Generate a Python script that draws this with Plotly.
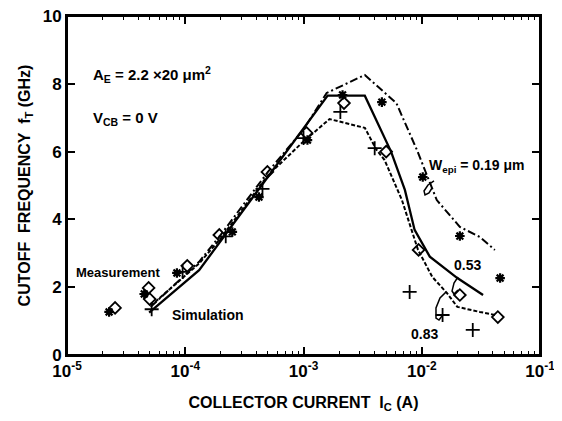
import plotly.graph_objects as go

# ---------------- data ----------------
# Simulation curves (collector current in A, fT in GHz)
sim019_I = [5.1e-5, 1.31e-4, 2e-4, 5e-4, 1e-3, 1.57e-3, 3.3e-3, 6.1e-3, 9.1e-3, 1.17e-2, 1.34e-2, 2.1e-2, 3.1e-2, 4.15e-2]
sim019_f = [1.42, 2.75, 3.55, 5.4, 6.65, 7.73, 8.26, 7.43, 6.05, 5.07, 4.57, 3.78, 3.48, 3.1]

sim053_I = [4.95e-5, 1.31e-4, 1.6e-3, 3.3e-3, 5.5e-3, 7.2e-3, 8.7e-3, 1.17e-2, 2.0e-2, 3.3e-2]
sim053_f = [1.25, 2.5, 7.65, 7.65, 6.0, 4.87, 3.69, 2.9, 2.27, 1.77]

sim083_I = [5.1e-5, 1.31e-4, 2e-4, 5e-4, 1e-3, 1.66e-3, 3.3e-3, 4.15e-3, 4.85e-3, 6.8e-3, 9.3e-3, 1.23e-2, 1.63e-2, 2.0e-2, 3.1e-2, 4.2e-2]
sim083_f = [1.45, 2.7, 3.45, 5.3, 6.3, 6.96, 6.7, 6.05, 5.75, 4.57, 3.1, 2.3, 1.83, 1.42, 1.27, 1.18]

# Measurements
meas019_I = [2.27e-5, 4.5e-5, 8.5e-5, 2.5e-4, 4.2e-4, 1.08e-3, 2.14e-3, 4.6e-3, 1.02e-2, 2.1e-2, 4.6e-2]
meas019_f = [1.27, 1.8, 2.42, 3.63, 4.66, 6.34, 7.67, 7.46, 5.25, 3.51, 2.27]

meas053_I = [2.55e-5, 4.9e-5, 5.0e-5, 1.04e-4, 1.94e-4, 4.95e-4, 1.06e-3, 2.2e-3, 5.0e-3, 9.4e-3, 2.1e-2, 4.4e-2]
meas053_f = [1.39, 1.98, 1.65, 2.63, 3.54, 5.4, 6.55, 7.43, 6.0, 3.1, 1.77, 1.12]

meas083_I = [5.2e-5, 9.5e-5, 2.2e-4, 4.5e-4, 1.0e-3, 2.05e-3, 4.0e-3, 7.9e-3, 1.5e-2, 2.7e-2]
meas083_f = [1.35, 2.45, 3.5, 4.9, 6.4, 7.17, 6.1, 1.86, 1.18, 0.74]

x_tickvals = [1e-5, 1e-4, 1e-3, 1e-2, 1e-1]
x_ticktext = ["10<sup>-5</sup>", "10<sup>-4</sup>", "10<sup>-3</sup>", "10<sup>-2</sup>", "10<sup>-1</sup>"]
y_tickvals = [0, 2, 4, 6, 8, 10]

# ---------------- figure ----------------
FONT = "Liberation Sans, Arial, sans-serif"
OFF = 8                      # page body margin of the browser
W, H = 562 - OFF, 421 - 2 * OFF
L, T = 67 - OFF, 16 - OFF
PW, PH = 473, 339
R, B = W - L - PW, H - T - PH


def px2paper(x, y):
    # x, y are screen pixel positions in the reference picture
    return (x - OFF - L) / PW, (T + PH - (y - OFF)) / PH


fig = go.Figure()
fig.add_trace(go.Scatter(x=sim019_I, y=sim019_f, mode="lines",
                         line=dict(color="black", width=2, dash="8px,3px,2px,3px")))
fig.add_trace(go.Scatter(x=sim053_I, y=sim053_f, mode="lines",
                         line=dict(color="black", width=2.3)))
fig.add_trace(go.Scatter(x=sim083_I, y=sim083_f, mode="lines",
                         line=dict(color="black", width=2, dash="4px,2px")))
fig.add_trace(go.Scatter(x=meas019_I, y=meas019_f, mode="markers",
                         marker=dict(symbol="asterisk-open", size=8, color="black",
                                     line=dict(color="black", width=2.2))))
fig.add_trace(go.Scatter(x=meas053_I, y=meas053_f, mode="markers",
                         marker=dict(symbol="diamond-open", size=9, color="black",
                                     line=dict(color="black", width=1.8))))
fig.add_trace(go.Scatter(x=meas083_I, y=meas083_f, mode="markers",
                         marker=dict(symbol="cross-thin-open", size=10, color="black",
                                     line=dict(color="black", width=1.8))))

# text annotations (pixel positions converted to paper coordinates)
def ann(x, y, text, size=15, xanchor="left"):
    px, py = px2paper(x, y)
    fig.add_annotation(x=px, y=py, xref="paper", yref="paper", text=text, showarrow=False,
                       xanchor=xanchor, yanchor="middle",
                       font=dict(family=FONT, size=size, color="black"))

ann(91, 74, "<b>A<sub>E</sub> = 2.2 ×20 μm<sup>2</sup></b>", 15)
ann(91, 118, "<b>V<sub>CB</sub> = 0 V</b>", 15)
ann(74, 272, "<b>Measurement</b>", 13)
ann(170, 315, "<b>Simulation</b>", 14)
ann(427, 166, "<b>W<sub>epi</sub> = 0.19 μm</b>", 14)
ann(452, 265, "<b>0.53</b>", 14)
ann(409, 334, "<b>0.83</b>", 14)

# leader hooks from labels to curves
def path(points):
    pts = [px2paper(x, y) for x, y in points]
    d = "M " + " L ".join(f"{a:.4f},{b:.4f}" for a, b in pts)
    fig.add_shape(type="path", path=d, xref="paper", yref="paper",
                  line=dict(color="black", width=1.5))

path([(434, 181), (428, 185), (424, 191), (425, 195), (429, 193), (432, 188)])
path([(458, 277), (454, 283), (452, 291), (454, 294), (458, 290)])
path([(446, 292), (440, 298), (436, 308), (436, 318), (439, 320), (442, 316)])

# plot frame
fig.add_shape(type="rect", xref="paper", yref="paper", x0=0, y0=0, x1=1, y1=1,
              line=dict(color="black", width=2), fillcolor="rgba(0,0,0,0)", layer="above")

fig.update_layout(
    width=W, height=H,
    margin=dict(l=L, r=R, t=T, b=B, autoexpand=False),
    paper_bgcolor="white", plot_bgcolor="white",
    showlegend=False,
    font=dict(family=FONT, color="black"),
    xaxis=dict(
        type="log", range=[-5, -1], automargin=False, ticklabeloverflow="allow",
        tickvals=x_tickvals, ticktext=[f"<b>{t}</b>" for t in x_ticktext],
        tickfont=dict(family=FONT, size=17, color="black"),
        ticks="inside", ticklen=8, tickwidth=1.5, tickcolor="black",
        minor=dict(ticks="inside", ticklen=4, tickwidth=1.2, tickcolor="black", dtick="D1", showgrid=False),
        showline=True, linecolor="black", linewidth=2, mirror="ticks",
        showgrid=False, zeroline=False,
        title=dict(text="<b>COLLECTOR CURRENT  I<sub>C</sub> (A)</b>",
                   font=dict(family=FONT, size=16, color="black"), standoff=20),
    ),
    yaxis=dict(
        range=[0, 10], automargin=False, ticklabeloverflow="allow",
        tickvals=y_tickvals, ticktext=[f"<b>{v}</b>" for v in y_tickvals],
        tickfont=dict(family=FONT, size=17, color="black"),
        ticks="inside", ticklen=8, tickwidth=1.5, tickcolor="black",
        showline=True, linecolor="black", linewidth=2, mirror="ticks",
        showgrid=False, zeroline=False,
        title=dict(text="<b>CUTOFF  FREQUENCY  f<sub>T</sub> (GHz)</b>",
                   font=dict(family=FONT, size=16, color="black"), standoff=8),
    ),
)

fig.write_html("out.html")
